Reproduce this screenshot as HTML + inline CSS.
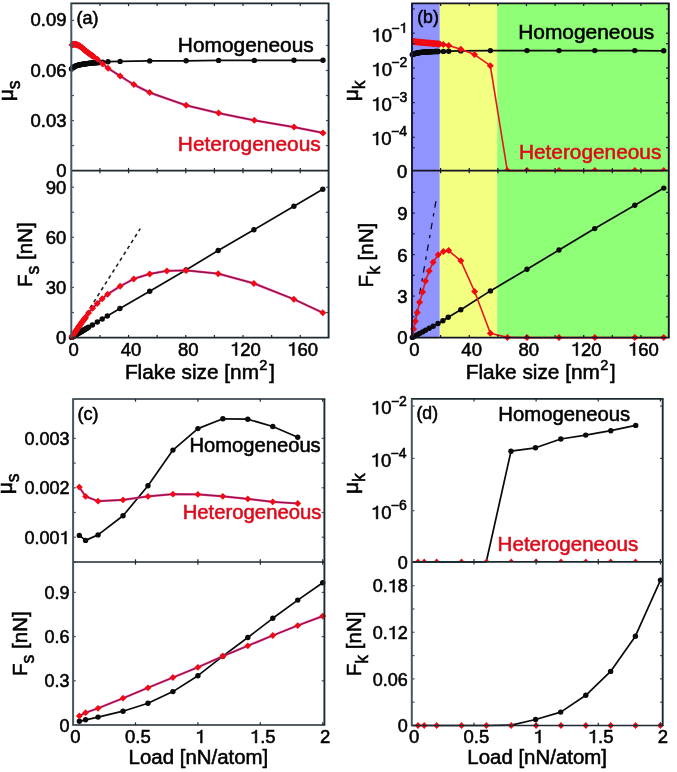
<!DOCTYPE html>
<html><head><meta charset="utf-8"><style>
html,body{margin:0;padding:0;background:#fff;}
svg{display:block;will-change:transform;}
text{font-family:"Liberation Sans", sans-serif;}
</style></head><body>
<svg width="677" height="772" viewBox="0 0 677 772">
<rect x="0" y="0" width="677" height="772" fill="#ffffff"/>
<rect x="412" y="3.4" width="27.8" height="334.2" fill="#8f94ff"/>
<rect x="439.8" y="3.4" width="57.4" height="334.2" fill="#f2ff80"/>
<rect x="497.2" y="3.4" width="171.6" height="334.2" fill="#90ff78"/>
<polyline points="71.5,69 72.9,67.6 74.6,66.5 76.6,65.6 78.9,65 81.9,64.4 84.8,63.9 88.5,63.4 92.4,63 97.5,62.6 102.7,62.2 108,61.7 120.1,61.4 149.7,60.9 186.1,60.8 218.6,60.4 254.3,60.4 294,60.3 323,60.3" fill="none" stroke="#0a0a0a" stroke-width="1.7" stroke-linejoin="round" />
<circle cx="71.5" cy="69" r="2.7" fill="#0a0a0a"/>
<circle cx="72.9" cy="67.6" r="2.7" fill="#0a0a0a"/>
<circle cx="74.6" cy="66.5" r="2.7" fill="#0a0a0a"/>
<circle cx="76.6" cy="65.6" r="2.7" fill="#0a0a0a"/>
<circle cx="78.9" cy="65" r="2.7" fill="#0a0a0a"/>
<circle cx="81.9" cy="64.4" r="2.7" fill="#0a0a0a"/>
<circle cx="84.8" cy="63.9" r="2.7" fill="#0a0a0a"/>
<circle cx="88.5" cy="63.4" r="2.7" fill="#0a0a0a"/>
<circle cx="92.4" cy="63" r="2.7" fill="#0a0a0a"/>
<circle cx="97.5" cy="62.6" r="2.7" fill="#0a0a0a"/>
<circle cx="102.7" cy="62.2" r="2.7" fill="#0a0a0a"/>
<circle cx="108" cy="61.7" r="2.7" fill="#0a0a0a"/>
<circle cx="120.1" cy="61.4" r="2.7" fill="#0a0a0a"/>
<circle cx="149.7" cy="60.9" r="2.7" fill="#0a0a0a"/>
<circle cx="186.1" cy="60.8" r="2.7" fill="#0a0a0a"/>
<circle cx="218.6" cy="60.4" r="2.7" fill="#0a0a0a"/>
<circle cx="254.3" cy="60.4" r="2.7" fill="#0a0a0a"/>
<circle cx="294" cy="60.3" r="2.7" fill="#0a0a0a"/>
<circle cx="323" cy="60.3" r="2.7" fill="#0a0a0a"/>
<circle cx="72" cy="68.5" r="2.7" fill="#0a0a0a"/>
<circle cx="72.8" cy="67.7" r="2.7" fill="#0a0a0a"/>
<circle cx="73.6" cy="67.15" r="2.7" fill="#0a0a0a"/>
<circle cx="74.4" cy="66.63" r="2.7" fill="#0a0a0a"/>
<circle cx="75.2" cy="66.23" r="2.7" fill="#0a0a0a"/>
<circle cx="76" cy="65.87" r="2.7" fill="#0a0a0a"/>
<circle cx="76.8" cy="65.55" r="2.7" fill="#0a0a0a"/>
<circle cx="77.6" cy="65.34" r="2.7" fill="#0a0a0a"/>
<circle cx="78.4" cy="65.13" r="2.7" fill="#0a0a0a"/>
<circle cx="79.2" cy="64.94" r="2.7" fill="#0a0a0a"/>
<circle cx="80" cy="64.78" r="2.7" fill="#0a0a0a"/>
<circle cx="80.8" cy="64.62" r="2.7" fill="#0a0a0a"/>
<circle cx="81.6" cy="64.46" r="2.7" fill="#0a0a0a"/>
<circle cx="82.4" cy="64.31" r="2.7" fill="#0a0a0a"/>
<circle cx="83.2" cy="64.18" r="2.7" fill="#0a0a0a"/>
<circle cx="84" cy="64.04" r="2.7" fill="#0a0a0a"/>
<circle cx="84.8" cy="63.9" r="2.7" fill="#0a0a0a"/>
<circle cx="85.6" cy="63.79" r="2.7" fill="#0a0a0a"/>
<circle cx="86.4" cy="63.68" r="2.7" fill="#0a0a0a"/>
<circle cx="87.2" cy="63.58" r="2.7" fill="#0a0a0a"/>
<circle cx="88" cy="63.47" r="2.7" fill="#0a0a0a"/>
<circle cx="88.8" cy="63.37" r="2.7" fill="#0a0a0a"/>
<circle cx="89.6" cy="63.29" r="2.7" fill="#0a0a0a"/>
<circle cx="90.4" cy="63.21" r="2.7" fill="#0a0a0a"/>
<circle cx="91.2" cy="63.12" r="2.7" fill="#0a0a0a"/>
<circle cx="92" cy="63.04" r="2.7" fill="#0a0a0a"/>
<circle cx="92.8" cy="62.97" r="2.7" fill="#0a0a0a"/>
<circle cx="93.6" cy="62.91" r="2.7" fill="#0a0a0a"/>
<circle cx="94.4" cy="62.84" r="2.7" fill="#0a0a0a"/>
<circle cx="95.2" cy="62.78" r="2.7" fill="#0a0a0a"/>
<circle cx="96" cy="62.72" r="2.7" fill="#0a0a0a"/>
<circle cx="96.8" cy="62.65" r="2.7" fill="#0a0a0a"/>
<circle cx="97.6" cy="62.59" r="2.7" fill="#0a0a0a"/>
<circle cx="98.4" cy="62.53" r="2.7" fill="#0a0a0a"/>
<circle cx="99.2" cy="62.47" r="2.7" fill="#0a0a0a"/>
<circle cx="100" cy="62.41" r="2.7" fill="#0a0a0a"/>
<polyline points="71.5,45.2 72.9,44.4 74.6,44.2 76.6,44.6 78.9,45.6 81.9,47.6 84.8,50.3 88.5,53.1 92.4,55.8 97.5,59.3 102.7,63.9 108,68.2 120.1,76 133.8,84.6 149.7,92.6 186.1,105.3 218.6,113.1 254.3,120.3 294,127.1 323,132.9" fill="none" stroke="#f02a80" stroke-width="2.3" stroke-linejoin="round" />
<polyline points="71.5,45.2 72.9,44.4 74.6,44.2 76.6,44.6 78.9,45.6 81.9,47.6 84.8,50.3 88.5,53.1 92.4,55.8 97.5,59.3 102.7,63.9 108,68.2 120.1,76 133.8,84.6 149.7,92.6 186.1,105.3 218.6,113.1 254.3,120.3 294,127.1 323,132.9" fill="none" stroke="#581030" stroke-width="0.85" stroke-linejoin="round" />
<path d="M72.9 40.9L76.4 44.4L72.9 47.9L69.4 44.4Z" fill="#f00a14"/>
<path d="M74.6 40.7L78.1 44.2L74.6 47.7L71.1 44.2Z" fill="#f00a14"/>
<path d="M76.6 41.1L80.1 44.6L76.6 48.1L73.1 44.6Z" fill="#f00a14"/>
<path d="M78.9 42.1L82.4 45.6L78.9 49.1L75.4 45.6Z" fill="#f00a14"/>
<path d="M81.9 44.1L85.4 47.6L81.9 51.1L78.4 47.6Z" fill="#f00a14"/>
<path d="M84.8 46.8L88.3 50.3L84.8 53.8L81.3 50.3Z" fill="#f00a14"/>
<path d="M88.5 49.6L92 53.1L88.5 56.6L85 53.1Z" fill="#f00a14"/>
<path d="M92.4 52.3L95.9 55.8L92.4 59.3L88.9 55.8Z" fill="#f00a14"/>
<path d="M97.5 55.8L101 59.3L97.5 62.8L94 59.3Z" fill="#f00a14"/>
<path d="M102.7 60.4L106.2 63.9L102.7 67.4L99.2 63.9Z" fill="#f00a14"/>
<path d="M108 64.7L111.5 68.2L108 71.7L104.5 68.2Z" fill="#f00a14"/>
<path d="M120.1 72.5L123.6 76L120.1 79.5L116.6 76Z" fill="#f00a14"/>
<path d="M133.8 81.1L137.3 84.6L133.8 88.1L130.3 84.6Z" fill="#f00a14"/>
<path d="M149.7 89.1L153.2 92.6L149.7 96.1L146.2 92.6Z" fill="#f00a14"/>
<path d="M186.1 101.8L189.6 105.3L186.1 108.8L182.6 105.3Z" fill="#f00a14"/>
<path d="M218.6 109.6L222.1 113.1L218.6 116.6L215.1 113.1Z" fill="#f00a14"/>
<path d="M254.3 116.8L257.8 120.3L254.3 123.8L250.8 120.3Z" fill="#f00a14"/>
<path d="M294 123.6L297.5 127.1L294 130.6L290.5 127.1Z" fill="#f00a14"/>
<path d="M323 129.4L326.5 132.9L323 136.4L319.5 132.9Z" fill="#f00a14"/>
<path d="M72 41.41L75.5 44.91L72 48.41L68.5 44.91Z" fill="#f00a14"/>
<path d="M72.8 40.96L76.3 44.46L72.8 47.96L69.3 44.46Z" fill="#f00a14"/>
<path d="M73.6 40.82L77.1 44.32L73.6 47.82L70.1 44.32Z" fill="#f00a14"/>
<path d="M74.4 40.72L77.9 44.22L74.4 47.72L70.9 44.22Z" fill="#f00a14"/>
<path d="M75.2 40.82L78.7 44.32L75.2 47.82L71.7 44.32Z" fill="#f00a14"/>
<path d="M76 40.98L79.5 44.48L76 47.98L72.5 44.48Z" fill="#f00a14"/>
<path d="M76.8 41.19L80.3 44.69L76.8 48.19L73.3 44.69Z" fill="#f00a14"/>
<path d="M77.6 41.53L81.1 45.03L77.6 48.53L74.1 45.03Z" fill="#f00a14"/>
<path d="M78.4 41.88L81.9 45.38L78.4 48.88L74.9 45.38Z" fill="#f00a14"/>
<path d="M79.2 42.3L82.7 45.8L79.2 49.3L75.7 45.8Z" fill="#f00a14"/>
<path d="M80 42.83L83.5 46.33L80 49.83L76.5 46.33Z" fill="#f00a14"/>
<path d="M80.8 43.37L84.3 46.87L80.8 50.37L77.3 46.87Z" fill="#f00a14"/>
<path d="M81.6 43.9L85.1 47.4L81.6 50.9L78.1 47.4Z" fill="#f00a14"/>
<path d="M82.4 44.57L85.9 48.07L82.4 51.57L78.9 48.07Z" fill="#f00a14"/>
<path d="M83.2 45.31L86.7 48.81L83.2 52.31L79.7 48.81Z" fill="#f00a14"/>
<path d="M84 46.06L87.5 49.56L84 53.06L80.5 49.56Z" fill="#f00a14"/>
<path d="M84.8 46.8L88.3 50.3L84.8 53.8L81.3 50.3Z" fill="#f00a14"/>
<path d="M85.6 47.41L89.1 50.91L85.6 54.41L82.1 50.91Z" fill="#f00a14"/>
<path d="M86.4 48.01L89.9 51.51L86.4 55.01L82.9 51.51Z" fill="#f00a14"/>
<path d="M87.2 48.62L90.7 52.12L87.2 55.62L83.7 52.12Z" fill="#f00a14"/>
<path d="M88 49.22L91.5 52.72L88 56.22L84.5 52.72Z" fill="#f00a14"/>
<path d="M88.8 49.81L92.3 53.31L88.8 56.81L85.3 53.31Z" fill="#f00a14"/>
<path d="M89.6 50.36L93.1 53.86L89.6 57.36L86.1 53.86Z" fill="#f00a14"/>
<path d="M90.4 50.92L93.9 54.42L90.4 57.92L86.9 54.42Z" fill="#f00a14"/>
<path d="M91.2 51.47L94.7 54.97L91.2 58.47L87.7 54.97Z" fill="#f00a14"/>
<path d="M92 52.02L95.5 55.52L92 59.02L88.5 55.52Z" fill="#f00a14"/>
<path d="M92.8 52.57L96.3 56.07L92.8 59.57L89.3 56.07Z" fill="#f00a14"/>
<path d="M93.6 53.12L97.1 56.62L93.6 60.12L90.1 56.62Z" fill="#f00a14"/>
<line x1="71.3" y1="337.6" x2="140.3" y2="228.6" stroke="#1a2626" stroke-width="1.6" stroke-dasharray="3.6 3.4"/>
<polyline points="71.5,337.4 72.9,336.64 74.6,335.62 76.6,334.42 78.9,333.04 81.9,331.24 84.8,329.5 88.5,327.28 92.4,324.94 97.3,322 102.2,319.06 107.3,316 119.9,308.5 149.7,291.3 186,269.9 218.2,250.5 253.9,229.7 293.9,206.3 322.8,189.3" fill="none" stroke="#0a0a0a" stroke-width="1.7" stroke-linejoin="round" />
<circle cx="71.5" cy="337.4" r="2.7" fill="#0a0a0a"/>
<circle cx="72.9" cy="336.64" r="2.7" fill="#0a0a0a"/>
<circle cx="74.6" cy="335.62" r="2.7" fill="#0a0a0a"/>
<circle cx="76.6" cy="334.42" r="2.7" fill="#0a0a0a"/>
<circle cx="78.9" cy="333.04" r="2.7" fill="#0a0a0a"/>
<circle cx="81.9" cy="331.24" r="2.7" fill="#0a0a0a"/>
<circle cx="84.8" cy="329.5" r="2.7" fill="#0a0a0a"/>
<circle cx="88.5" cy="327.28" r="2.7" fill="#0a0a0a"/>
<circle cx="92.4" cy="324.94" r="2.7" fill="#0a0a0a"/>
<circle cx="97.3" cy="322" r="2.7" fill="#0a0a0a"/>
<circle cx="102.2" cy="319.06" r="2.7" fill="#0a0a0a"/>
<circle cx="107.3" cy="316" r="2.7" fill="#0a0a0a"/>
<circle cx="119.9" cy="308.5" r="2.7" fill="#0a0a0a"/>
<circle cx="149.7" cy="291.3" r="2.7" fill="#0a0a0a"/>
<circle cx="186" cy="269.9" r="2.7" fill="#0a0a0a"/>
<circle cx="218.2" cy="250.5" r="2.7" fill="#0a0a0a"/>
<circle cx="253.9" cy="229.7" r="2.7" fill="#0a0a0a"/>
<circle cx="293.9" cy="206.3" r="2.7" fill="#0a0a0a"/>
<circle cx="322.8" cy="189.3" r="2.7" fill="#0a0a0a"/>
<circle cx="72" cy="337.13" r="2.7" fill="#0a0a0a"/>
<circle cx="72.8" cy="336.69" r="2.7" fill="#0a0a0a"/>
<circle cx="73.6" cy="336.22" r="2.7" fill="#0a0a0a"/>
<circle cx="74.4" cy="335.74" r="2.7" fill="#0a0a0a"/>
<circle cx="75.2" cy="335.26" r="2.7" fill="#0a0a0a"/>
<circle cx="76" cy="334.78" r="2.7" fill="#0a0a0a"/>
<circle cx="76.8" cy="334.3" r="2.7" fill="#0a0a0a"/>
<circle cx="77.6" cy="333.82" r="2.7" fill="#0a0a0a"/>
<circle cx="78.4" cy="333.34" r="2.7" fill="#0a0a0a"/>
<circle cx="79.2" cy="332.86" r="2.7" fill="#0a0a0a"/>
<circle cx="80" cy="332.38" r="2.7" fill="#0a0a0a"/>
<circle cx="80.8" cy="331.9" r="2.7" fill="#0a0a0a"/>
<circle cx="81.6" cy="331.42" r="2.7" fill="#0a0a0a"/>
<circle cx="82.4" cy="330.94" r="2.7" fill="#0a0a0a"/>
<circle cx="83.2" cy="330.46" r="2.7" fill="#0a0a0a"/>
<circle cx="84" cy="329.98" r="2.7" fill="#0a0a0a"/>
<circle cx="84.8" cy="329.5" r="2.7" fill="#0a0a0a"/>
<circle cx="85.6" cy="329.02" r="2.7" fill="#0a0a0a"/>
<circle cx="86.4" cy="328.54" r="2.7" fill="#0a0a0a"/>
<circle cx="87.2" cy="328.06" r="2.7" fill="#0a0a0a"/>
<circle cx="88" cy="327.58" r="2.7" fill="#0a0a0a"/>
<polyline points="71.5,337.3 72.9,335.3 74.6,332.8 76.6,330 78.9,326.6 81.9,322.3 84.8,318.4 88.5,313 92.6,308.2 97.2,303.4 102.2,298.7 107.6,294.2 120.1,286.3 133.7,278.9 149.7,273.9 166.9,270.9 186,270.4 218.2,273.7 253.9,283.4 293.9,299.2 322.8,312.7" fill="none" stroke="#f02a80" stroke-width="2.3" stroke-linejoin="round" />
<polyline points="71.5,337.3 72.9,335.3 74.6,332.8 76.6,330 78.9,326.6 81.9,322.3 84.8,318.4 88.5,313 92.6,308.2 97.2,303.4 102.2,298.7 107.6,294.2 120.1,286.3 133.7,278.9 149.7,273.9 166.9,270.9 186,270.4 218.2,273.7 253.9,283.4 293.9,299.2 322.8,312.7" fill="none" stroke="#581030" stroke-width="0.85" stroke-linejoin="round" />
<path d="M72.9 331.8L76.4 335.3L72.9 338.8L69.4 335.3Z" fill="#f00a14"/>
<path d="M74.6 329.3L78.1 332.8L74.6 336.3L71.1 332.8Z" fill="#f00a14"/>
<path d="M76.6 326.5L80.1 330L76.6 333.5L73.1 330Z" fill="#f00a14"/>
<path d="M78.9 323.1L82.4 326.6L78.9 330.1L75.4 326.6Z" fill="#f00a14"/>
<path d="M81.9 318.8L85.4 322.3L81.9 325.8L78.4 322.3Z" fill="#f00a14"/>
<path d="M84.8 314.9L88.3 318.4L84.8 321.9L81.3 318.4Z" fill="#f00a14"/>
<path d="M88.5 309.5L92 313L88.5 316.5L85 313Z" fill="#f00a14"/>
<path d="M92.6 304.7L96.1 308.2L92.6 311.7L89.1 308.2Z" fill="#f00a14"/>
<path d="M97.2 299.9L100.7 303.4L97.2 306.9L93.7 303.4Z" fill="#f00a14"/>
<path d="M102.2 295.2L105.7 298.7L102.2 302.2L98.7 298.7Z" fill="#f00a14"/>
<path d="M107.6 290.7L111.1 294.2L107.6 297.7L104.1 294.2Z" fill="#f00a14"/>
<path d="M120.1 282.8L123.6 286.3L120.1 289.8L116.6 286.3Z" fill="#f00a14"/>
<path d="M133.7 275.4L137.2 278.9L133.7 282.4L130.2 278.9Z" fill="#f00a14"/>
<path d="M149.7 270.4L153.2 273.9L149.7 277.4L146.2 273.9Z" fill="#f00a14"/>
<path d="M166.9 267.4L170.4 270.9L166.9 274.4L163.4 270.9Z" fill="#f00a14"/>
<path d="M186 266.9L189.5 270.4L186 273.9L182.5 270.4Z" fill="#f00a14"/>
<path d="M218.2 270.2L221.7 273.7L218.2 277.2L214.7 273.7Z" fill="#f00a14"/>
<path d="M253.9 279.9L257.4 283.4L253.9 286.9L250.4 283.4Z" fill="#f00a14"/>
<path d="M293.9 295.7L297.4 299.2L293.9 302.7L290.4 299.2Z" fill="#f00a14"/>
<path d="M322.8 309.2L326.3 312.7L322.8 316.2L319.3 312.7Z" fill="#f00a14"/>
<path d="M72 333.09L75.5 336.59L72 340.09L68.5 336.59Z" fill="#f00a14"/>
<path d="M72.8 331.94L76.3 335.44L72.8 338.94L69.3 335.44Z" fill="#f00a14"/>
<path d="M73.6 330.77L77.1 334.27L73.6 337.77L70.1 334.27Z" fill="#f00a14"/>
<path d="M74.4 329.59L77.9 333.09L74.4 336.59L70.9 333.09Z" fill="#f00a14"/>
<path d="M75.2 328.46L78.7 331.96L75.2 335.46L71.7 331.96Z" fill="#f00a14"/>
<path d="M76 327.34L79.5 330.84L76 334.34L72.5 330.84Z" fill="#f00a14"/>
<path d="M76.8 326.2L80.3 329.7L76.8 333.2L73.3 329.7Z" fill="#f00a14"/>
<path d="M77.6 325.02L81.1 328.52L77.6 332.02L74.1 328.52Z" fill="#f00a14"/>
<path d="M78.4 323.84L81.9 327.34L78.4 330.84L74.9 327.34Z" fill="#f00a14"/>
<path d="M79.2 322.67L82.7 326.17L79.2 329.67L75.7 326.17Z" fill="#f00a14"/>
<path d="M80 321.52L83.5 325.02L80 328.52L76.5 325.02Z" fill="#f00a14"/>
<path d="M80.8 320.38L84.3 323.88L80.8 327.38L77.3 323.88Z" fill="#f00a14"/>
<path d="M81.6 319.23L85.1 322.73L81.6 326.23L78.1 322.73Z" fill="#f00a14"/>
<path d="M82.4 318.13L85.9 321.63L82.4 325.13L78.9 321.63Z" fill="#f00a14"/>
<path d="M83.2 317.05L86.7 320.55L83.2 324.05L79.7 320.55Z" fill="#f00a14"/>
<path d="M84 315.98L87.5 319.48L84 322.98L80.5 319.48Z" fill="#f00a14"/>
<path d="M84.8 314.9L88.3 318.4L84.8 321.9L81.3 318.4Z" fill="#f00a14"/>
<path d="M85.6 313.73L89.1 317.23L85.6 320.73L82.1 317.23Z" fill="#f00a14"/>
<polyline points="412.3,54.6 413.6,54 415.3,53.5 417.3,53 419.6,52.6 422.6,52.2 425.5,52 429.2,51.8 433.1,51.6 438.2,51.5 443.4,51.4 448.7,51.2 460.8,50.9 490.4,50.6 527,50.6 559,50.6 594.8,50.6 634.8,50.6 663.7,50.8" fill="none" stroke="#0a0a0a" stroke-width="1.7" stroke-linejoin="round" />
<circle cx="412.3" cy="54.6" r="2.7" fill="#0a0a0a"/>
<circle cx="413.6" cy="54" r="2.7" fill="#0a0a0a"/>
<circle cx="415.3" cy="53.5" r="2.7" fill="#0a0a0a"/>
<circle cx="417.3" cy="53" r="2.7" fill="#0a0a0a"/>
<circle cx="419.6" cy="52.6" r="2.7" fill="#0a0a0a"/>
<circle cx="422.6" cy="52.2" r="2.7" fill="#0a0a0a"/>
<circle cx="425.5" cy="52" r="2.7" fill="#0a0a0a"/>
<circle cx="429.2" cy="51.8" r="2.7" fill="#0a0a0a"/>
<circle cx="433.1" cy="51.6" r="2.7" fill="#0a0a0a"/>
<circle cx="438.2" cy="51.5" r="2.7" fill="#0a0a0a"/>
<circle cx="443.4" cy="51.4" r="2.7" fill="#0a0a0a"/>
<circle cx="448.7" cy="51.2" r="2.7" fill="#0a0a0a"/>
<circle cx="460.8" cy="50.9" r="2.7" fill="#0a0a0a"/>
<circle cx="490.4" cy="50.6" r="2.7" fill="#0a0a0a"/>
<circle cx="527" cy="50.6" r="2.7" fill="#0a0a0a"/>
<circle cx="559" cy="50.6" r="2.7" fill="#0a0a0a"/>
<circle cx="594.8" cy="50.6" r="2.7" fill="#0a0a0a"/>
<circle cx="634.8" cy="50.6" r="2.7" fill="#0a0a0a"/>
<circle cx="663.7" cy="50.8" r="2.7" fill="#0a0a0a"/>
<circle cx="412.6" cy="54.46" r="2.7" fill="#0a0a0a"/>
<circle cx="413.4" cy="54.09" r="2.7" fill="#0a0a0a"/>
<circle cx="414.2" cy="53.82" r="2.7" fill="#0a0a0a"/>
<circle cx="415" cy="53.59" r="2.7" fill="#0a0a0a"/>
<circle cx="415.8" cy="53.37" r="2.7" fill="#0a0a0a"/>
<circle cx="416.6" cy="53.17" r="2.7" fill="#0a0a0a"/>
<circle cx="417.4" cy="52.98" r="2.7" fill="#0a0a0a"/>
<circle cx="418.2" cy="52.84" r="2.7" fill="#0a0a0a"/>
<circle cx="419" cy="52.7" r="2.7" fill="#0a0a0a"/>
<circle cx="419.8" cy="52.57" r="2.7" fill="#0a0a0a"/>
<circle cx="420.6" cy="52.47" r="2.7" fill="#0a0a0a"/>
<circle cx="421.4" cy="52.36" r="2.7" fill="#0a0a0a"/>
<circle cx="422.2" cy="52.25" r="2.7" fill="#0a0a0a"/>
<circle cx="423" cy="52.17" r="2.7" fill="#0a0a0a"/>
<circle cx="423.8" cy="52.12" r="2.7" fill="#0a0a0a"/>
<circle cx="424.6" cy="52.06" r="2.7" fill="#0a0a0a"/>
<circle cx="425.4" cy="52.01" r="2.7" fill="#0a0a0a"/>
<circle cx="426.2" cy="51.96" r="2.7" fill="#0a0a0a"/>
<circle cx="427" cy="51.92" r="2.7" fill="#0a0a0a"/>
<circle cx="427.8" cy="51.88" r="2.7" fill="#0a0a0a"/>
<circle cx="428.6" cy="51.83" r="2.7" fill="#0a0a0a"/>
<circle cx="429.4" cy="51.79" r="2.7" fill="#0a0a0a"/>
<circle cx="430.2" cy="51.75" r="2.7" fill="#0a0a0a"/>
<circle cx="431" cy="51.71" r="2.7" fill="#0a0a0a"/>
<circle cx="431.8" cy="51.67" r="2.7" fill="#0a0a0a"/>
<circle cx="432.6" cy="51.63" r="2.7" fill="#0a0a0a"/>
<circle cx="433.4" cy="51.59" r="2.7" fill="#0a0a0a"/>
<circle cx="434.2" cy="51.58" r="2.7" fill="#0a0a0a"/>
<circle cx="435" cy="51.56" r="2.7" fill="#0a0a0a"/>
<circle cx="435.8" cy="51.55" r="2.7" fill="#0a0a0a"/>
<circle cx="436.6" cy="51.53" r="2.7" fill="#0a0a0a"/>
<circle cx="437.4" cy="51.52" r="2.7" fill="#0a0a0a"/>
<polyline points="412.3,41.4 413.6,41.5 415.3,41.8 417.3,42 419.6,42.2 422.6,42.5 425.5,42.8 429.2,43.1 433.1,43.4 438.2,43.9 443.4,44.5 448.7,45.6 460.8,49.2 474.5,54.6 490.3,65.7 507.3,170.6 527,170.6 559,170.6 594.8,170.6 634.8,170.6 663.7,170.6" fill="none" stroke="#e8141e" stroke-width="1.6" stroke-linejoin="round" />
<clipPath id="cb"><rect x="412" y="3.4" width="257" height="167.2"/></clipPath>
<g clip-path="url(#cb)">
<path d="M412.3 37.9L415.8 41.4L412.3 44.9L408.8 41.4Z" fill="#f00a14"/>
<path d="M413.6 38L417.1 41.5L413.6 45L410.1 41.5Z" fill="#f00a14"/>
<path d="M415.3 38.3L418.8 41.8L415.3 45.3L411.8 41.8Z" fill="#f00a14"/>
<path d="M417.3 38.5L420.8 42L417.3 45.5L413.8 42Z" fill="#f00a14"/>
<path d="M419.6 38.7L423.1 42.2L419.6 45.7L416.1 42.2Z" fill="#f00a14"/>
<path d="M422.6 39L426.1 42.5L422.6 46L419.1 42.5Z" fill="#f00a14"/>
<path d="M425.5 39.3L429 42.8L425.5 46.3L422 42.8Z" fill="#f00a14"/>
<path d="M429.2 39.6L432.7 43.1L429.2 46.6L425.7 43.1Z" fill="#f00a14"/>
<path d="M433.1 39.9L436.6 43.4L433.1 46.9L429.6 43.4Z" fill="#f00a14"/>
<path d="M438.2 40.4L441.7 43.9L438.2 47.4L434.7 43.9Z" fill="#f00a14"/>
<path d="M443.4 41L446.9 44.5L443.4 48L439.9 44.5Z" fill="#f00a14"/>
<path d="M448.7 42.1L452.2 45.6L448.7 49.1L445.2 45.6Z" fill="#f00a14"/>
<path d="M460.8 45.7L464.3 49.2L460.8 52.7L457.3 49.2Z" fill="#f00a14"/>
<path d="M474.5 51.1L478 54.6L474.5 58.1L471 54.6Z" fill="#f00a14"/>
<path d="M490.3 62.2L493.8 65.7L490.3 69.2L486.8 65.7Z" fill="#f00a14"/>
<path d="M507.3 167.1L510.8 170.6L507.3 174.1L503.8 170.6Z" fill="#f00a14"/>
<path d="M527 167.1L530.5 170.6L527 174.1L523.5 170.6Z" fill="#f00a14"/>
<path d="M559 167.1L562.5 170.6L559 174.1L555.5 170.6Z" fill="#f00a14"/>
<path d="M594.8 167.1L598.3 170.6L594.8 174.1L591.3 170.6Z" fill="#f00a14"/>
<path d="M634.8 167.1L638.3 170.6L634.8 174.1L631.3 170.6Z" fill="#f00a14"/>
<path d="M663.7 167.1L667.2 170.6L663.7 174.1L660.2 170.6Z" fill="#f00a14"/>
<path d="M412.6 37.92L416.1 41.42L412.6 44.92L409.1 41.42Z" fill="#f00a14"/>
<path d="M413.4 37.98L416.9 41.48L413.4 44.98L409.9 41.48Z" fill="#f00a14"/>
<path d="M414.2 38.11L417.7 41.61L414.2 45.11L410.7 41.61Z" fill="#f00a14"/>
<path d="M415 38.25L418.5 41.75L415 45.25L411.5 41.75Z" fill="#f00a14"/>
<path d="M415.8 38.35L419.3 41.85L415.8 45.35L412.3 41.85Z" fill="#f00a14"/>
<path d="M416.6 38.43L420.1 41.93L416.6 45.43L413.1 41.93Z" fill="#f00a14"/>
<path d="M417.4 38.51L420.9 42.01L417.4 45.51L413.9 42.01Z" fill="#f00a14"/>
<path d="M418.2 38.58L421.7 42.08L418.2 45.58L414.7 42.08Z" fill="#f00a14"/>
<path d="M419 38.65L422.5 42.15L419 45.65L415.5 42.15Z" fill="#f00a14"/>
<path d="M419.8 38.72L423.3 42.22L419.8 45.72L416.3 42.22Z" fill="#f00a14"/>
<path d="M420.6 38.8L424.1 42.3L420.6 45.8L417.1 42.3Z" fill="#f00a14"/>
<path d="M421.4 38.88L424.9 42.38L421.4 45.88L417.9 42.38Z" fill="#f00a14"/>
<path d="M422.2 38.96L425.7 42.46L422.2 45.96L418.7 42.46Z" fill="#f00a14"/>
<path d="M423 39.04L426.5 42.54L423 46.04L419.5 42.54Z" fill="#f00a14"/>
<path d="M423.8 39.12L427.3 42.62L423.8 46.12L420.3 42.62Z" fill="#f00a14"/>
<path d="M424.6 39.21L428.1 42.71L424.6 46.21L421.1 42.71Z" fill="#f00a14"/>
<path d="M425.4 39.29L428.9 42.79L425.4 46.29L421.9 42.79Z" fill="#f00a14"/>
<path d="M426.2 39.36L429.7 42.86L426.2 46.36L422.7 42.86Z" fill="#f00a14"/>
<path d="M427 39.42L430.5 42.92L427 46.42L423.5 42.92Z" fill="#f00a14"/>
<path d="M427.8 39.49L431.3 42.99L427.8 46.49L424.3 42.99Z" fill="#f00a14"/>
<path d="M428.6 39.55L432.1 43.05L428.6 46.55L425.1 43.05Z" fill="#f00a14"/>
<path d="M429.4 39.62L432.9 43.12L429.4 46.62L425.9 43.12Z" fill="#f00a14"/>
<path d="M430.2 39.68L433.7 43.18L430.2 46.68L426.7 43.18Z" fill="#f00a14"/>
<path d="M431 39.74L434.5 43.24L431 46.74L427.5 43.24Z" fill="#f00a14"/>
<path d="M431.8 39.8L435.3 43.3L431.8 46.8L428.3 43.3Z" fill="#f00a14"/>
<path d="M432.6 39.86L436.1 43.36L432.6 46.86L429.1 43.36Z" fill="#f00a14"/>
<path d="M433.4 39.93L436.9 43.43L433.4 46.93L429.9 43.43Z" fill="#f00a14"/>
<path d="M434.2 40.01L437.7 43.51L434.2 47.01L430.7 43.51Z" fill="#f00a14"/>
<path d="M435 40.09L438.5 43.59L435 47.09L431.5 43.59Z" fill="#f00a14"/>
<path d="M435.8 40.16L439.3 43.66L435.8 47.16L432.3 43.66Z" fill="#f00a14"/>
<path d="M436.6 40.24L440.1 43.74L436.6 47.24L433.1 43.74Z" fill="#f00a14"/>
<path d="M437.4 40.32L440.9 43.82L437.4 47.32L433.9 43.82Z" fill="#f00a14"/>
<path d="M438.2 40.4L441.7 43.9L438.2 47.4L434.7 43.9Z" fill="#f00a14"/>
<path d="M439 40.49L442.5 43.99L439 47.49L435.5 43.99Z" fill="#f00a14"/>
<path d="M439.8 40.58L443.3 44.08L439.8 47.58L436.3 44.08Z" fill="#f00a14"/>
</g>
<line x1="412" y1="337.6" x2="436.2" y2="199.6" stroke="#0c0c2c" stroke-width="1.3" stroke-dasharray="6.6 6.4 3.4 5.6"/>
<polyline points="412.3,337.4 413.6,336.74 415.3,335.82 417.3,334.74 419.6,333.5 422.6,331.88 425.5,330.31 429.2,328.31 433.1,326.21 438,323.56 442.9,320.8 448.2,317.2 460.8,309.7 490.4,290.9 527,269.3 559,250 594.7,228.6 634.8,205.3 663.8,188.1" fill="none" stroke="#0a0a0a" stroke-width="1.7" stroke-linejoin="round" />
<circle cx="412.3" cy="337.4" r="2.7" fill="#0a0a0a"/>
<circle cx="413.6" cy="336.74" r="2.7" fill="#0a0a0a"/>
<circle cx="415.3" cy="335.82" r="2.7" fill="#0a0a0a"/>
<circle cx="417.3" cy="334.74" r="2.7" fill="#0a0a0a"/>
<circle cx="419.6" cy="333.5" r="2.7" fill="#0a0a0a"/>
<circle cx="422.6" cy="331.88" r="2.7" fill="#0a0a0a"/>
<circle cx="425.5" cy="330.31" r="2.7" fill="#0a0a0a"/>
<circle cx="429.2" cy="328.31" r="2.7" fill="#0a0a0a"/>
<circle cx="433.1" cy="326.21" r="2.7" fill="#0a0a0a"/>
<circle cx="438" cy="323.56" r="2.7" fill="#0a0a0a"/>
<circle cx="442.9" cy="320.8" r="2.7" fill="#0a0a0a"/>
<circle cx="448.2" cy="317.2" r="2.7" fill="#0a0a0a"/>
<circle cx="460.8" cy="309.7" r="2.7" fill="#0a0a0a"/>
<circle cx="490.4" cy="290.9" r="2.7" fill="#0a0a0a"/>
<circle cx="527" cy="269.3" r="2.7" fill="#0a0a0a"/>
<circle cx="559" cy="250" r="2.7" fill="#0a0a0a"/>
<circle cx="594.7" cy="228.6" r="2.7" fill="#0a0a0a"/>
<circle cx="634.8" cy="205.3" r="2.7" fill="#0a0a0a"/>
<circle cx="663.8" cy="188.1" r="2.7" fill="#0a0a0a"/>
<polyline points="412.2,337.4 413.6,328.9 415.3,321.3 417.3,312.5 419.6,302.2 422.6,292 425.5,281 429.2,271.1 433.1,262.2 438.2,254.8 443.4,251.4 448.7,250.6 460.8,260.8 474.6,291.5 490.4,333.3 507.4,337.4 527,337.6 559,337.6 594.8,337.6 634.8,337.6 663.7,337.6" fill="none" stroke="#e8141e" stroke-width="1.6" stroke-linejoin="round" />
<path d="M413.6 325.4L417.1 328.9L413.6 332.4L410.1 328.9Z" fill="#f00a14"/>
<path d="M415.3 317.8L418.8 321.3L415.3 324.8L411.8 321.3Z" fill="#f00a14"/>
<path d="M417.3 309L420.8 312.5L417.3 316L413.8 312.5Z" fill="#f00a14"/>
<path d="M419.6 298.7L423.1 302.2L419.6 305.7L416.1 302.2Z" fill="#f00a14"/>
<path d="M422.6 288.5L426.1 292L422.6 295.5L419.1 292Z" fill="#f00a14"/>
<path d="M425.5 277.5L429 281L425.5 284.5L422 281Z" fill="#f00a14"/>
<path d="M429.2 267.6L432.7 271.1L429.2 274.6L425.7 271.1Z" fill="#f00a14"/>
<path d="M433.1 258.7L436.6 262.2L433.1 265.7L429.6 262.2Z" fill="#f00a14"/>
<path d="M438.2 251.3L441.7 254.8L438.2 258.3L434.7 254.8Z" fill="#f00a14"/>
<path d="M443.4 247.9L446.9 251.4L443.4 254.9L439.9 251.4Z" fill="#f00a14"/>
<path d="M448.7 247.1L452.2 250.6L448.7 254.1L445.2 250.6Z" fill="#f00a14"/>
<path d="M460.8 257.3L464.3 260.8L460.8 264.3L457.3 260.8Z" fill="#f00a14"/>
<path d="M474.6 288L478.1 291.5L474.6 295L471.1 291.5Z" fill="#f00a14"/>
<path d="M490.4 329.8L493.9 333.3L490.4 336.8L486.9 333.3Z" fill="#f00a14"/>
<path d="M507.4 333.9L510.9 337.4L507.4 340.9L503.9 337.4Z" fill="#f00a14"/>
<path d="M527 334.1L530.5 337.6L527 341.1L523.5 337.6Z" fill="#f00a14"/>
<path d="M559 334.1L562.5 337.6L559 341.1L555.5 337.6Z" fill="#f00a14"/>
<path d="M594.8 334.1L598.3 337.6L594.8 341.1L591.3 337.6Z" fill="#f00a14"/>
<path d="M634.8 334.1L638.3 337.6L634.8 341.1L631.3 337.6Z" fill="#f00a14"/>
<path d="M663.7 334.1L667.2 337.6L663.7 341.1L660.2 337.6Z" fill="#f00a14"/>
<polyline points="79.34,535.4 85.58,540.4 98.06,534.9 123.02,515.8 147.98,485.8 172.94,450.1 197.9,428.6 222.86,418.8 247.82,419.2 272.78,426.5 297.74,437.3" fill="none" stroke="#0a0a0a" stroke-width="1.7" stroke-linejoin="round" />
<circle cx="79.34" cy="535.4" r="2.7" fill="#0a0a0a"/>
<circle cx="85.58" cy="540.4" r="2.7" fill="#0a0a0a"/>
<circle cx="98.06" cy="534.9" r="2.7" fill="#0a0a0a"/>
<circle cx="123.02" cy="515.8" r="2.7" fill="#0a0a0a"/>
<circle cx="147.98" cy="485.8" r="2.7" fill="#0a0a0a"/>
<circle cx="172.94" cy="450.1" r="2.7" fill="#0a0a0a"/>
<circle cx="197.9" cy="428.6" r="2.7" fill="#0a0a0a"/>
<circle cx="222.86" cy="418.8" r="2.7" fill="#0a0a0a"/>
<circle cx="247.82" cy="419.2" r="2.7" fill="#0a0a0a"/>
<circle cx="272.78" cy="426.5" r="2.7" fill="#0a0a0a"/>
<circle cx="297.74" cy="437.3" r="2.7" fill="#0a0a0a"/>
<polyline points="79.34,487.1 85.58,496.4 98.06,501.2 123.02,499.9 147.98,496.4 172.94,494.2 197.9,494.4 222.86,496.3 247.82,498.9 272.78,501.8 297.74,503.5" fill="none" stroke="#f02a80" stroke-width="2.2" stroke-linejoin="round" />
<polyline points="79.34,487.1 85.58,496.4 98.06,501.2 123.02,499.9 147.98,496.4 172.94,494.2 197.9,494.4 222.86,496.3 247.82,498.9 272.78,501.8 297.74,503.5" fill="none" stroke="#581030" stroke-width="0.8" stroke-linejoin="round" />
<path d="M79.34 483.7L82.74 487.1L79.34 490.5L75.94 487.1Z" fill="#f00a14"/>
<path d="M85.58 493L88.98 496.4L85.58 499.8L82.18 496.4Z" fill="#f00a14"/>
<path d="M98.06 497.8L101.46 501.2L98.06 504.6L94.66 501.2Z" fill="#f00a14"/>
<path d="M123.02 496.5L126.42 499.9L123.02 503.3L119.62 499.9Z" fill="#f00a14"/>
<path d="M147.98 493L151.38 496.4L147.98 499.8L144.58 496.4Z" fill="#f00a14"/>
<path d="M172.94 490.8L176.34 494.2L172.94 497.6L169.54 494.2Z" fill="#f00a14"/>
<path d="M197.9 491L201.3 494.4L197.9 497.8L194.5 494.4Z" fill="#f00a14"/>
<path d="M222.86 492.9L226.26 496.3L222.86 499.7L219.46 496.3Z" fill="#f00a14"/>
<path d="M247.82 495.5L251.22 498.9L247.82 502.3L244.42 498.9Z" fill="#f00a14"/>
<path d="M272.78 498.4L276.18 501.8L272.78 505.2L269.38 501.8Z" fill="#f00a14"/>
<path d="M297.74 500.1L301.14 503.5L297.74 506.9L294.34 503.5Z" fill="#f00a14"/>
<polyline points="79.34,721.3 85.58,719.8 98.06,717.1 123.02,711.2 147.98,703.2 172.94,691.6 197.9,675.7 222.86,656.2 247.82,637.5 272.78,618.3 297.74,600.1 322.7,582.7" fill="none" stroke="#0a0a0a" stroke-width="1.7" stroke-linejoin="round" />
<circle cx="79.34" cy="721.3" r="2.7" fill="#0a0a0a"/>
<circle cx="85.58" cy="719.8" r="2.7" fill="#0a0a0a"/>
<circle cx="98.06" cy="717.1" r="2.7" fill="#0a0a0a"/>
<circle cx="123.02" cy="711.2" r="2.7" fill="#0a0a0a"/>
<circle cx="147.98" cy="703.2" r="2.7" fill="#0a0a0a"/>
<circle cx="172.94" cy="691.6" r="2.7" fill="#0a0a0a"/>
<circle cx="197.9" cy="675.7" r="2.7" fill="#0a0a0a"/>
<circle cx="222.86" cy="656.2" r="2.7" fill="#0a0a0a"/>
<circle cx="247.82" cy="637.5" r="2.7" fill="#0a0a0a"/>
<circle cx="272.78" cy="618.3" r="2.7" fill="#0a0a0a"/>
<circle cx="297.74" cy="600.1" r="2.7" fill="#0a0a0a"/>
<circle cx="322.7" cy="582.7" r="2.7" fill="#0a0a0a"/>
<polyline points="79.34,716 85.58,712.7 98.06,708.3 123.02,698.2 147.98,687.8 172.94,677.5 197.9,667.3 222.86,656.2 247.82,645.8 272.78,635.5 297.74,625.6 322.7,616.1" fill="none" stroke="#f02a80" stroke-width="2.2" stroke-linejoin="round" />
<polyline points="79.34,716 85.58,712.7 98.06,708.3 123.02,698.2 147.98,687.8 172.94,677.5 197.9,667.3 222.86,656.2 247.82,645.8 272.78,635.5 297.74,625.6 322.7,616.1" fill="none" stroke="#581030" stroke-width="0.8" stroke-linejoin="round" />
<path d="M79.34 712.6L82.74 716L79.34 719.4L75.94 716Z" fill="#f00a14"/>
<path d="M85.58 709.3L88.98 712.7L85.58 716.1L82.18 712.7Z" fill="#f00a14"/>
<path d="M98.06 704.9L101.46 708.3L98.06 711.7L94.66 708.3Z" fill="#f00a14"/>
<path d="M123.02 694.8L126.42 698.2L123.02 701.6L119.62 698.2Z" fill="#f00a14"/>
<path d="M147.98 684.4L151.38 687.8L147.98 691.2L144.58 687.8Z" fill="#f00a14"/>
<path d="M172.94 674.1L176.34 677.5L172.94 680.9L169.54 677.5Z" fill="#f00a14"/>
<path d="M197.9 663.9L201.3 667.3L197.9 670.7L194.5 667.3Z" fill="#f00a14"/>
<path d="M222.86 652.8L226.26 656.2L222.86 659.6L219.46 656.2Z" fill="#f00a14"/>
<path d="M247.82 642.4L251.22 645.8L247.82 649.2L244.42 645.8Z" fill="#f00a14"/>
<path d="M272.78 632.1L276.18 635.5L272.78 638.9L269.38 635.5Z" fill="#f00a14"/>
<path d="M297.74 622.2L301.14 625.6L297.74 629L294.34 625.6Z" fill="#f00a14"/>
<path d="M322.7 612.7L326.1 616.1L322.7 619.5L319.3 616.1Z" fill="#f00a14"/>
<polyline points="411.8,561.8 486.3,561.8 511,451.2 535.5,447.8 560.8,439 585.7,435.1 610.8,430.7 635.7,425.4" fill="none" stroke="#0a0a0a" stroke-width="1.7" stroke-linejoin="round" />
<circle cx="511" cy="451.2" r="2.7" fill="#0a0a0a"/>
<circle cx="535.5" cy="447.8" r="2.7" fill="#0a0a0a"/>
<circle cx="560.8" cy="439" r="2.7" fill="#0a0a0a"/>
<circle cx="585.7" cy="435.1" r="2.7" fill="#0a0a0a"/>
<circle cx="610.8" cy="430.7" r="2.7" fill="#0a0a0a"/>
<circle cx="635.7" cy="425.4" r="2.7" fill="#0a0a0a"/>
<clipPath id="cd"><rect x="411.8" y="398.9" width="251" height="162.9"/></clipPath>
<g clip-path="url(#cd)">
<path d="M418.01 558.5L421.01 561.8L418.01 565.1L415.01 561.8Z" fill="#f00a14"/>
<path d="M424.23 558.5L427.23 561.8L424.23 565.1L421.23 561.8Z" fill="#f00a14"/>
<path d="M436.66 558.5L439.66 561.8L436.66 565.1L433.66 561.8Z" fill="#f00a14"/>
<path d="M461.52 558.5L464.52 561.8L461.52 565.1L458.52 561.8Z" fill="#f00a14"/>
<path d="M486.38 558.5L489.38 561.8L486.38 565.1L483.38 561.8Z" fill="#f00a14"/>
<path d="M511.24 558.5L514.24 561.8L511.24 565.1L508.24 561.8Z" fill="#f00a14"/>
<path d="M536.1 558.5L539.1 561.8L536.1 565.1L533.1 561.8Z" fill="#f00a14"/>
<path d="M560.96 558.5L563.96 561.8L560.96 565.1L557.96 561.8Z" fill="#f00a14"/>
<path d="M585.82 558.5L588.82 561.8L585.82 565.1L582.82 561.8Z" fill="#f00a14"/>
<path d="M610.68 558.5L613.68 561.8L610.68 565.1L607.68 561.8Z" fill="#f00a14"/>
<path d="M635.54 558.5L638.54 561.8L635.54 565.1L632.54 561.8Z" fill="#f00a14"/>
</g>
<polyline points="411.8,725.5 486.3,725.5 511.4,725.2 535.6,719.5 560.7,712.1 585.8,695.3 610.6,671.4 635.4,636.2 660.5,580.1" fill="none" stroke="#0a0a0a" stroke-width="1.7" stroke-linejoin="round" />
<circle cx="535.6" cy="719.5" r="2.7" fill="#0a0a0a"/>
<circle cx="560.7" cy="712.1" r="2.7" fill="#0a0a0a"/>
<circle cx="585.8" cy="695.3" r="2.7" fill="#0a0a0a"/>
<circle cx="610.6" cy="671.4" r="2.7" fill="#0a0a0a"/>
<circle cx="635.4" cy="636.2" r="2.7" fill="#0a0a0a"/>
<circle cx="660.5" cy="580.1" r="2.7" fill="#0a0a0a"/>
<path d="M418.01 722L421.21 725.5L418.01 729L414.81 725.5Z" fill="#f00a14"/>
<path d="M424.23 722L427.43 725.5L424.23 729L421.03 725.5Z" fill="#f00a14"/>
<path d="M436.66 722L439.86 725.5L436.66 729L433.46 725.5Z" fill="#f00a14"/>
<path d="M461.52 722L464.72 725.5L461.52 729L458.32 725.5Z" fill="#f00a14"/>
<path d="M486.38 722L489.58 725.5L486.38 729L483.18 725.5Z" fill="#f00a14"/>
<path d="M511.24 722L514.44 725.5L511.24 729L508.04 725.5Z" fill="#f00a14"/>
<path d="M536.1 722L539.3 725.5L536.1 729L532.9 725.5Z" fill="#f00a14"/>
<path d="M560.96 722L564.16 725.5L560.96 729L557.76 725.5Z" fill="#f00a14"/>
<path d="M585.82 722L589.02 725.5L585.82 729L582.62 725.5Z" fill="#f00a14"/>
<path d="M610.68 722L613.88 725.5L610.68 729L607.48 725.5Z" fill="#f00a14"/>
<path d="M635.54 722L638.74 725.5L635.54 729L632.34 725.5Z" fill="#f00a14"/>
<path d="M660.4 722L663.6 725.5L660.4 729L657.2 725.5Z" fill="#f00a14"/>
<line x1="99.92" y1="3.4" x2="99.92" y2="6.1" stroke="#1c2a30" stroke-width="1.2" />
<line x1="99.92" y1="170.6" x2="99.92" y2="173.3" stroke="#1c2a30" stroke-width="1.2" />
<line x1="99.92" y1="170.6" x2="99.92" y2="167.9" stroke="#1c2a30" stroke-width="1.2" />
<line x1="99.92" y1="337.6" x2="99.92" y2="334.9" stroke="#1c2a30" stroke-width="1.2" />
<line x1="128.54" y1="3.4" x2="128.54" y2="6.1" stroke="#1c2a30" stroke-width="1.2" />
<line x1="128.54" y1="170.6" x2="128.54" y2="173.3" stroke="#1c2a30" stroke-width="1.2" />
<line x1="128.54" y1="170.6" x2="128.54" y2="167.9" stroke="#1c2a30" stroke-width="1.2" />
<line x1="128.54" y1="337.6" x2="128.54" y2="334.9" stroke="#1c2a30" stroke-width="1.2" />
<line x1="157.16" y1="3.4" x2="157.16" y2="6.1" stroke="#1c2a30" stroke-width="1.2" />
<line x1="157.16" y1="170.6" x2="157.16" y2="173.3" stroke="#1c2a30" stroke-width="1.2" />
<line x1="157.16" y1="170.6" x2="157.16" y2="167.9" stroke="#1c2a30" stroke-width="1.2" />
<line x1="157.16" y1="337.6" x2="157.16" y2="334.9" stroke="#1c2a30" stroke-width="1.2" />
<line x1="185.78" y1="3.4" x2="185.78" y2="6.1" stroke="#1c2a30" stroke-width="1.2" />
<line x1="185.78" y1="170.6" x2="185.78" y2="173.3" stroke="#1c2a30" stroke-width="1.2" />
<line x1="185.78" y1="170.6" x2="185.78" y2="167.9" stroke="#1c2a30" stroke-width="1.2" />
<line x1="185.78" y1="337.6" x2="185.78" y2="334.9" stroke="#1c2a30" stroke-width="1.2" />
<line x1="214.4" y1="3.4" x2="214.4" y2="6.1" stroke="#1c2a30" stroke-width="1.2" />
<line x1="214.4" y1="170.6" x2="214.4" y2="173.3" stroke="#1c2a30" stroke-width="1.2" />
<line x1="214.4" y1="170.6" x2="214.4" y2="167.9" stroke="#1c2a30" stroke-width="1.2" />
<line x1="214.4" y1="337.6" x2="214.4" y2="334.9" stroke="#1c2a30" stroke-width="1.2" />
<line x1="243.02" y1="3.4" x2="243.02" y2="6.1" stroke="#1c2a30" stroke-width="1.2" />
<line x1="243.02" y1="170.6" x2="243.02" y2="173.3" stroke="#1c2a30" stroke-width="1.2" />
<line x1="243.02" y1="170.6" x2="243.02" y2="167.9" stroke="#1c2a30" stroke-width="1.2" />
<line x1="243.02" y1="337.6" x2="243.02" y2="334.9" stroke="#1c2a30" stroke-width="1.2" />
<line x1="271.64" y1="3.4" x2="271.64" y2="6.1" stroke="#1c2a30" stroke-width="1.2" />
<line x1="271.64" y1="170.6" x2="271.64" y2="173.3" stroke="#1c2a30" stroke-width="1.2" />
<line x1="271.64" y1="170.6" x2="271.64" y2="167.9" stroke="#1c2a30" stroke-width="1.2" />
<line x1="271.64" y1="337.6" x2="271.64" y2="334.9" stroke="#1c2a30" stroke-width="1.2" />
<line x1="300.26" y1="3.4" x2="300.26" y2="6.1" stroke="#1c2a30" stroke-width="1.2" />
<line x1="300.26" y1="170.6" x2="300.26" y2="173.3" stroke="#1c2a30" stroke-width="1.2" />
<line x1="300.26" y1="170.6" x2="300.26" y2="167.9" stroke="#1c2a30" stroke-width="1.2" />
<line x1="300.26" y1="337.6" x2="300.26" y2="334.9" stroke="#1c2a30" stroke-width="1.2" />
<line x1="71.3" y1="145.57" x2="74" y2="145.57" stroke="#43575f" stroke-width="1.2" />
<line x1="328.6" y1="145.57" x2="325.9" y2="145.57" stroke="#43575f" stroke-width="1.2" />
<line x1="71.3" y1="120.54" x2="74" y2="120.54" stroke="#43575f" stroke-width="1.2" />
<line x1="328.6" y1="120.54" x2="325.9" y2="120.54" stroke="#43575f" stroke-width="1.2" />
<line x1="71.3" y1="95.51" x2="74" y2="95.51" stroke="#43575f" stroke-width="1.2" />
<line x1="328.6" y1="95.51" x2="325.9" y2="95.51" stroke="#43575f" stroke-width="1.2" />
<line x1="71.3" y1="70.48" x2="74" y2="70.48" stroke="#43575f" stroke-width="1.2" />
<line x1="328.6" y1="70.48" x2="325.9" y2="70.48" stroke="#43575f" stroke-width="1.2" />
<line x1="71.3" y1="45.45" x2="74" y2="45.45" stroke="#43575f" stroke-width="1.2" />
<line x1="328.6" y1="45.45" x2="325.9" y2="45.45" stroke="#43575f" stroke-width="1.2" />
<line x1="71.3" y1="20.42" x2="74" y2="20.42" stroke="#43575f" stroke-width="1.2" />
<line x1="328.6" y1="20.42" x2="325.9" y2="20.42" stroke="#43575f" stroke-width="1.2" />
<line x1="71.3" y1="312.53" x2="74" y2="312.53" stroke="#43575f" stroke-width="1.2" />
<line x1="328.6" y1="312.53" x2="325.9" y2="312.53" stroke="#43575f" stroke-width="1.2" />
<line x1="71.3" y1="287.46" x2="74" y2="287.46" stroke="#43575f" stroke-width="1.2" />
<line x1="328.6" y1="287.46" x2="325.9" y2="287.46" stroke="#43575f" stroke-width="1.2" />
<line x1="71.3" y1="262.39" x2="74" y2="262.39" stroke="#43575f" stroke-width="1.2" />
<line x1="328.6" y1="262.39" x2="325.9" y2="262.39" stroke="#43575f" stroke-width="1.2" />
<line x1="71.3" y1="237.32" x2="74" y2="237.32" stroke="#43575f" stroke-width="1.2" />
<line x1="328.6" y1="237.32" x2="325.9" y2="237.32" stroke="#43575f" stroke-width="1.2" />
<line x1="71.3" y1="212.25" x2="74" y2="212.25" stroke="#43575f" stroke-width="1.2" />
<line x1="328.6" y1="212.25" x2="325.9" y2="212.25" stroke="#43575f" stroke-width="1.2" />
<line x1="71.3" y1="187.18" x2="74" y2="187.18" stroke="#43575f" stroke-width="1.2" />
<line x1="328.6" y1="187.18" x2="325.9" y2="187.18" stroke="#43575f" stroke-width="1.2" />
<line x1="71.3" y1="3.4" x2="328.6" y2="3.4" stroke="#1c2a30" stroke-width="1.7" stroke-linecap="square"/>
<line x1="71.3" y1="170.6" x2="328.6" y2="170.6" stroke="#1c2a30" stroke-width="1.7" />
<line x1="71.3" y1="337.6" x2="328.6" y2="337.6" stroke="#1c2a30" stroke-width="1.7" stroke-linecap="square"/>
<line x1="71.3" y1="3.4" x2="71.3" y2="337.6" stroke="#43575f" stroke-width="2.0" />
<line x1="328.6" y1="3.4" x2="328.6" y2="337.6" stroke="#1c2a30" stroke-width="1.9" />
<line x1="440.62" y1="3.4" x2="440.62" y2="6.1" stroke="#141420" stroke-width="1.2" />
<line x1="440.62" y1="170.6" x2="440.62" y2="173.3" stroke="#141420" stroke-width="1.2" />
<line x1="440.62" y1="170.6" x2="440.62" y2="167.9" stroke="#141420" stroke-width="1.2" />
<line x1="440.62" y1="337.6" x2="440.62" y2="334.9" stroke="#141420" stroke-width="1.2" />
<line x1="469.24" y1="3.4" x2="469.24" y2="6.1" stroke="#141420" stroke-width="1.2" />
<line x1="469.24" y1="170.6" x2="469.24" y2="173.3" stroke="#141420" stroke-width="1.2" />
<line x1="469.24" y1="170.6" x2="469.24" y2="167.9" stroke="#141420" stroke-width="1.2" />
<line x1="469.24" y1="337.6" x2="469.24" y2="334.9" stroke="#141420" stroke-width="1.2" />
<line x1="497.86" y1="3.4" x2="497.86" y2="6.1" stroke="#141420" stroke-width="1.2" />
<line x1="497.86" y1="170.6" x2="497.86" y2="173.3" stroke="#141420" stroke-width="1.2" />
<line x1="497.86" y1="170.6" x2="497.86" y2="167.9" stroke="#141420" stroke-width="1.2" />
<line x1="497.86" y1="337.6" x2="497.86" y2="334.9" stroke="#141420" stroke-width="1.2" />
<line x1="526.48" y1="3.4" x2="526.48" y2="6.1" stroke="#141420" stroke-width="1.2" />
<line x1="526.48" y1="170.6" x2="526.48" y2="173.3" stroke="#141420" stroke-width="1.2" />
<line x1="526.48" y1="170.6" x2="526.48" y2="167.9" stroke="#141420" stroke-width="1.2" />
<line x1="526.48" y1="337.6" x2="526.48" y2="334.9" stroke="#141420" stroke-width="1.2" />
<line x1="555.1" y1="3.4" x2="555.1" y2="6.1" stroke="#141420" stroke-width="1.2" />
<line x1="555.1" y1="170.6" x2="555.1" y2="173.3" stroke="#141420" stroke-width="1.2" />
<line x1="555.1" y1="170.6" x2="555.1" y2="167.9" stroke="#141420" stroke-width="1.2" />
<line x1="555.1" y1="337.6" x2="555.1" y2="334.9" stroke="#141420" stroke-width="1.2" />
<line x1="583.72" y1="3.4" x2="583.72" y2="6.1" stroke="#141420" stroke-width="1.2" />
<line x1="583.72" y1="170.6" x2="583.72" y2="173.3" stroke="#141420" stroke-width="1.2" />
<line x1="583.72" y1="170.6" x2="583.72" y2="167.9" stroke="#141420" stroke-width="1.2" />
<line x1="583.72" y1="337.6" x2="583.72" y2="334.9" stroke="#141420" stroke-width="1.2" />
<line x1="612.34" y1="3.4" x2="612.34" y2="6.1" stroke="#141420" stroke-width="1.2" />
<line x1="612.34" y1="170.6" x2="612.34" y2="173.3" stroke="#141420" stroke-width="1.2" />
<line x1="612.34" y1="170.6" x2="612.34" y2="167.9" stroke="#141420" stroke-width="1.2" />
<line x1="612.34" y1="337.6" x2="612.34" y2="334.9" stroke="#141420" stroke-width="1.2" />
<line x1="640.96" y1="3.4" x2="640.96" y2="6.1" stroke="#141420" stroke-width="1.2" />
<line x1="640.96" y1="170.6" x2="640.96" y2="173.3" stroke="#141420" stroke-width="1.2" />
<line x1="640.96" y1="170.6" x2="640.96" y2="167.9" stroke="#141420" stroke-width="1.2" />
<line x1="640.96" y1="337.6" x2="640.96" y2="334.9" stroke="#141420" stroke-width="1.2" />
<line x1="412" y1="33.2" x2="414.7" y2="33.2" stroke="#1a1a40" stroke-width="1.2" />
<line x1="668.8" y1="33.2" x2="666.1" y2="33.2" stroke="#1a1a40" stroke-width="1.2" />
<line x1="412" y1="8.95" x2="414.7" y2="8.95" stroke="#1a1a40" stroke-width="1.2" />
<line x1="668.8" y1="8.95" x2="666.1" y2="8.95" stroke="#1a1a40" stroke-width="1.2" />
<line x1="412" y1="67.9" x2="414.7" y2="67.9" stroke="#1a1a40" stroke-width="1.2" />
<line x1="668.8" y1="67.9" x2="666.1" y2="67.9" stroke="#1a1a40" stroke-width="1.2" />
<line x1="412" y1="43.65" x2="414.7" y2="43.65" stroke="#1a1a40" stroke-width="1.2" />
<line x1="668.8" y1="43.65" x2="666.1" y2="43.65" stroke="#1a1a40" stroke-width="1.2" />
<line x1="412" y1="102.6" x2="414.7" y2="102.6" stroke="#1a1a40" stroke-width="1.2" />
<line x1="668.8" y1="102.6" x2="666.1" y2="102.6" stroke="#1a1a40" stroke-width="1.2" />
<line x1="412" y1="78.35" x2="414.7" y2="78.35" stroke="#1a1a40" stroke-width="1.2" />
<line x1="668.8" y1="78.35" x2="666.1" y2="78.35" stroke="#1a1a40" stroke-width="1.2" />
<line x1="412" y1="137.3" x2="414.7" y2="137.3" stroke="#1a1a40" stroke-width="1.2" />
<line x1="668.8" y1="137.3" x2="666.1" y2="137.3" stroke="#1a1a40" stroke-width="1.2" />
<line x1="412" y1="113.05" x2="414.7" y2="113.05" stroke="#1a1a40" stroke-width="1.2" />
<line x1="668.8" y1="113.05" x2="666.1" y2="113.05" stroke="#1a1a40" stroke-width="1.2" />
<line x1="412" y1="147.75" x2="414.7" y2="147.75" stroke="#1a1a40" stroke-width="1.2" />
<line x1="668.8" y1="147.75" x2="666.1" y2="147.75" stroke="#1a1a40" stroke-width="1.2" />
<line x1="412" y1="316.85" x2="414.7" y2="316.85" stroke="#1a1a40" stroke-width="1.2" />
<line x1="668.8" y1="316.85" x2="666.1" y2="316.85" stroke="#1a1a40" stroke-width="1.2" />
<line x1="412" y1="296.1" x2="414.7" y2="296.1" stroke="#1a1a40" stroke-width="1.2" />
<line x1="668.8" y1="296.1" x2="666.1" y2="296.1" stroke="#1a1a40" stroke-width="1.2" />
<line x1="412" y1="275.35" x2="414.7" y2="275.35" stroke="#1a1a40" stroke-width="1.2" />
<line x1="668.8" y1="275.35" x2="666.1" y2="275.35" stroke="#1a1a40" stroke-width="1.2" />
<line x1="412" y1="254.6" x2="414.7" y2="254.6" stroke="#1a1a40" stroke-width="1.2" />
<line x1="668.8" y1="254.6" x2="666.1" y2="254.6" stroke="#1a1a40" stroke-width="1.2" />
<line x1="412" y1="233.85" x2="414.7" y2="233.85" stroke="#1a1a40" stroke-width="1.2" />
<line x1="668.8" y1="233.85" x2="666.1" y2="233.85" stroke="#1a1a40" stroke-width="1.2" />
<line x1="412" y1="213.1" x2="414.7" y2="213.1" stroke="#1a1a40" stroke-width="1.2" />
<line x1="668.8" y1="213.1" x2="666.1" y2="213.1" stroke="#1a1a40" stroke-width="1.2" />
<line x1="412" y1="192.35" x2="414.7" y2="192.35" stroke="#1a1a40" stroke-width="1.2" />
<line x1="668.8" y1="192.35" x2="666.1" y2="192.35" stroke="#1a1a40" stroke-width="1.2" />
<line x1="412" y1="3.4" x2="668.8" y2="3.4" stroke="#141420" stroke-width="1.7" stroke-linecap="square"/>
<line x1="412" y1="170.6" x2="668.8" y2="170.6" stroke="#141420" stroke-width="1.7" />
<line x1="412" y1="337.6" x2="668.8" y2="337.6" stroke="#141420" stroke-width="1.7" stroke-linecap="square"/>
<line x1="412" y1="3.4" x2="412" y2="337.6" stroke="#1a1a40" stroke-width="2.0" />
<line x1="668.8" y1="3.4" x2="668.8" y2="337.6" stroke="#141420" stroke-width="1.9" />
<line x1="135.5" y1="399" x2="135.5" y2="401.7" stroke="#1c2a30" stroke-width="1.2" />
<line x1="135.5" y1="562" x2="135.5" y2="564.7" stroke="#1c2a30" stroke-width="1.2" />
<line x1="135.5" y1="562" x2="135.5" y2="559.3" stroke="#1c2a30" stroke-width="1.2" />
<line x1="135.5" y1="725" x2="135.5" y2="722.3" stroke="#1c2a30" stroke-width="1.2" />
<line x1="197.9" y1="399" x2="197.9" y2="401.7" stroke="#1c2a30" stroke-width="1.2" />
<line x1="197.9" y1="562" x2="197.9" y2="564.7" stroke="#1c2a30" stroke-width="1.2" />
<line x1="197.9" y1="562" x2="197.9" y2="559.3" stroke="#1c2a30" stroke-width="1.2" />
<line x1="197.9" y1="725" x2="197.9" y2="722.3" stroke="#1c2a30" stroke-width="1.2" />
<line x1="260.3" y1="399" x2="260.3" y2="401.7" stroke="#1c2a30" stroke-width="1.2" />
<line x1="260.3" y1="562" x2="260.3" y2="564.7" stroke="#1c2a30" stroke-width="1.2" />
<line x1="260.3" y1="562" x2="260.3" y2="559.3" stroke="#1c2a30" stroke-width="1.2" />
<line x1="260.3" y1="725" x2="260.3" y2="722.3" stroke="#1c2a30" stroke-width="1.2" />
<line x1="322.7" y1="399" x2="322.7" y2="401.7" stroke="#1c2a30" stroke-width="1.2" />
<line x1="322.7" y1="562" x2="322.7" y2="564.7" stroke="#1c2a30" stroke-width="1.2" />
<line x1="322.7" y1="562" x2="322.7" y2="559.3" stroke="#1c2a30" stroke-width="1.2" />
<line x1="322.7" y1="725" x2="322.7" y2="722.3" stroke="#1c2a30" stroke-width="1.2" />
<line x1="73.1" y1="561.9" x2="75.8" y2="561.9" stroke="#43575f" stroke-width="1.2" />
<line x1="324.4" y1="561.9" x2="321.7" y2="561.9" stroke="#43575f" stroke-width="1.2" />
<line x1="73.1" y1="537.2" x2="75.8" y2="537.2" stroke="#43575f" stroke-width="1.2" />
<line x1="324.4" y1="537.2" x2="321.7" y2="537.2" stroke="#43575f" stroke-width="1.2" />
<line x1="73.1" y1="512.5" x2="75.8" y2="512.5" stroke="#43575f" stroke-width="1.2" />
<line x1="324.4" y1="512.5" x2="321.7" y2="512.5" stroke="#43575f" stroke-width="1.2" />
<line x1="73.1" y1="487.8" x2="75.8" y2="487.8" stroke="#43575f" stroke-width="1.2" />
<line x1="324.4" y1="487.8" x2="321.7" y2="487.8" stroke="#43575f" stroke-width="1.2" />
<line x1="73.1" y1="463.1" x2="75.8" y2="463.1" stroke="#43575f" stroke-width="1.2" />
<line x1="324.4" y1="463.1" x2="321.7" y2="463.1" stroke="#43575f" stroke-width="1.2" />
<line x1="73.1" y1="438.4" x2="75.8" y2="438.4" stroke="#43575f" stroke-width="1.2" />
<line x1="324.4" y1="438.4" x2="321.7" y2="438.4" stroke="#43575f" stroke-width="1.2" />
<line x1="73.1" y1="680.8" x2="75.8" y2="680.8" stroke="#43575f" stroke-width="1.2" />
<line x1="324.4" y1="680.8" x2="321.7" y2="680.8" stroke="#43575f" stroke-width="1.2" />
<line x1="73.1" y1="636.6" x2="75.8" y2="636.6" stroke="#43575f" stroke-width="1.2" />
<line x1="324.4" y1="636.6" x2="321.7" y2="636.6" stroke="#43575f" stroke-width="1.2" />
<line x1="73.1" y1="592.4" x2="75.8" y2="592.4" stroke="#43575f" stroke-width="1.2" />
<line x1="324.4" y1="592.4" x2="321.7" y2="592.4" stroke="#43575f" stroke-width="1.2" />
<line x1="73.1" y1="399" x2="324.4" y2="399" stroke="#1c2a30" stroke-width="1.7" stroke-linecap="square"/>
<line x1="73.1" y1="562" x2="324.4" y2="562" stroke="#1c2a30" stroke-width="1.7" />
<line x1="73.1" y1="725" x2="324.4" y2="725" stroke="#1c2a30" stroke-width="1.7" stroke-linecap="square"/>
<line x1="73.1" y1="399" x2="73.1" y2="725" stroke="#43575f" stroke-width="2.0" />
<line x1="324.4" y1="399" x2="324.4" y2="725" stroke="#1c2a30" stroke-width="1.9" />
<line x1="473.95" y1="398.9" x2="473.95" y2="401.6" stroke="#1c2a30" stroke-width="1.2" />
<line x1="473.95" y1="561.8" x2="473.95" y2="564.5" stroke="#1c2a30" stroke-width="1.2" />
<line x1="473.95" y1="561.8" x2="473.95" y2="559.1" stroke="#1c2a30" stroke-width="1.2" />
<line x1="473.95" y1="725.5" x2="473.95" y2="722.8" stroke="#1c2a30" stroke-width="1.2" />
<line x1="536.1" y1="398.9" x2="536.1" y2="401.6" stroke="#1c2a30" stroke-width="1.2" />
<line x1="536.1" y1="561.8" x2="536.1" y2="564.5" stroke="#1c2a30" stroke-width="1.2" />
<line x1="536.1" y1="561.8" x2="536.1" y2="559.1" stroke="#1c2a30" stroke-width="1.2" />
<line x1="536.1" y1="725.5" x2="536.1" y2="722.8" stroke="#1c2a30" stroke-width="1.2" />
<line x1="598.25" y1="398.9" x2="598.25" y2="401.6" stroke="#1c2a30" stroke-width="1.2" />
<line x1="598.25" y1="561.8" x2="598.25" y2="564.5" stroke="#1c2a30" stroke-width="1.2" />
<line x1="598.25" y1="561.8" x2="598.25" y2="559.1" stroke="#1c2a30" stroke-width="1.2" />
<line x1="598.25" y1="725.5" x2="598.25" y2="722.8" stroke="#1c2a30" stroke-width="1.2" />
<line x1="660.4" y1="398.9" x2="660.4" y2="401.6" stroke="#1c2a30" stroke-width="1.2" />
<line x1="660.4" y1="561.8" x2="660.4" y2="564.5" stroke="#1c2a30" stroke-width="1.2" />
<line x1="660.4" y1="561.8" x2="660.4" y2="559.1" stroke="#1c2a30" stroke-width="1.2" />
<line x1="660.4" y1="725.5" x2="660.4" y2="722.8" stroke="#1c2a30" stroke-width="1.2" />
<line x1="411.8" y1="406.1" x2="414.5" y2="406.1" stroke="#43575f" stroke-width="1.2" />
<line x1="662.7" y1="406.1" x2="660" y2="406.1" stroke="#43575f" stroke-width="1.2" />
<line x1="411.8" y1="458.4" x2="414.5" y2="458.4" stroke="#43575f" stroke-width="1.2" />
<line x1="662.7" y1="458.4" x2="660" y2="458.4" stroke="#43575f" stroke-width="1.2" />
<line x1="411.8" y1="510.7" x2="414.5" y2="510.7" stroke="#43575f" stroke-width="1.2" />
<line x1="662.7" y1="510.7" x2="660" y2="510.7" stroke="#43575f" stroke-width="1.2" />
<line x1="411.8" y1="702.2" x2="414.5" y2="702.2" stroke="#43575f" stroke-width="1.2" />
<line x1="662.7" y1="702.2" x2="660" y2="702.2" stroke="#43575f" stroke-width="1.2" />
<line x1="411.8" y1="678.9" x2="414.5" y2="678.9" stroke="#43575f" stroke-width="1.2" />
<line x1="662.7" y1="678.9" x2="660" y2="678.9" stroke="#43575f" stroke-width="1.2" />
<line x1="411.8" y1="655.6" x2="414.5" y2="655.6" stroke="#43575f" stroke-width="1.2" />
<line x1="662.7" y1="655.6" x2="660" y2="655.6" stroke="#43575f" stroke-width="1.2" />
<line x1="411.8" y1="632.3" x2="414.5" y2="632.3" stroke="#43575f" stroke-width="1.2" />
<line x1="662.7" y1="632.3" x2="660" y2="632.3" stroke="#43575f" stroke-width="1.2" />
<line x1="411.8" y1="609" x2="414.5" y2="609" stroke="#43575f" stroke-width="1.2" />
<line x1="662.7" y1="609" x2="660" y2="609" stroke="#43575f" stroke-width="1.2" />
<line x1="411.8" y1="585.7" x2="414.5" y2="585.7" stroke="#43575f" stroke-width="1.2" />
<line x1="662.7" y1="585.7" x2="660" y2="585.7" stroke="#43575f" stroke-width="1.2" />
<line x1="411.8" y1="398.9" x2="662.7" y2="398.9" stroke="#1c2a30" stroke-width="1.7" stroke-linecap="square"/>
<line x1="411.8" y1="561.8" x2="662.7" y2="561.8" stroke="#1c2a30" stroke-width="1.7" />
<line x1="411.8" y1="725.5" x2="662.7" y2="725.5" stroke="#1c2a30" stroke-width="1.7" stroke-linecap="square"/>
<line x1="411.8" y1="398.9" x2="411.8" y2="725.5" stroke="#43575f" stroke-width="2.0" />
<line x1="662.7" y1="398.9" x2="662.7" y2="725.5" stroke="#1c2a30" stroke-width="1.9" />
<text stroke="#000" stroke-width="0.55" x="30.59" y="26.4" font-size="18.5" fill="#000">0.09</text>
<text stroke="#000" stroke-width="0.55" x="30.59" y="77.3" font-size="18.5" fill="#000">0.06</text>
<text stroke="#000" stroke-width="0.55" x="30.59" y="127.3" font-size="18.5" fill="#000">0.03</text>
<text stroke="#000" stroke-width="0.55" x="56.31" y="177.4" font-size="18.5" fill="#000">0</text>
<text stroke="#000" stroke-width="0.55" x="45.82" y="194" font-size="18.5" fill="#000">90</text>
<text stroke="#000" stroke-width="0.55" x="45.82" y="244.1" font-size="18.5" fill="#000">60</text>
<text stroke="#000" stroke-width="0.55" x="45.82" y="294.3" font-size="18.5" fill="#000">30</text>
<text stroke="#000" stroke-width="0.55" x="56.11" y="344.4" font-size="18.5" fill="#000">0</text>
<text stroke="#000" stroke-width="0.55" x="68.56" y="355.5" font-size="18.5" fill="#000">0</text>
<text stroke="#000" stroke-width="0.55" x="120.65" y="355.5" font-size="18.5" fill="#000">40</text>
<text stroke="#000" stroke-width="0.55" x="177.89" y="355.5" font-size="18.5" fill="#000">80</text>
<path d="M235.35 355.5L237.02 355.5L237.02 342.49L235.8 342.49L235.54 343.25L235.02 343.94L234.15 344.47L233.04 344.77L231.91 344.88L231.91 346.1L233.13 346.03L234.24 345.81L234.94 345.47L235.35 345.1Z" fill="#000" stroke="#000" stroke-width="0.55" stroke-linejoin="round"/>
<text stroke="#000" stroke-width="0.55" x="240.28" y="355.5" font-size="18.5" fill="#000">20</text>
<path d="M292.59 355.5L294.26 355.5L294.26 342.49L293.04 342.49L292.78 343.25L292.26 343.94L291.39 344.47L290.28 344.77L289.15 344.88L289.15 346.1L290.37 346.03L291.48 345.81L292.18 345.47L292.59 345.1Z" fill="#000" stroke="#000" stroke-width="0.55" stroke-linejoin="round"/>
<text stroke="#000" stroke-width="0.55" x="297.52" y="355.5" font-size="18.5" fill="#000">60</text>
<text stroke="#000" stroke-width="0.55" x="124.9" y="379.3" font-size="20.8" fill="#000"  >Flake size [nm</text>
<text stroke="#000" stroke-width="0.55" x="259.3" y="369.6" font-size="14.5" fill="#000"  >2</text>
<text stroke="#000" stroke-width="0.55" x="269.2" y="379" font-size="20.0" fill="#000"  >]</text>
<text stroke="#000" stroke-width="0.55" x="76.42" y="23.9" font-size="18.3" fill="#000" textLength="22.03" lengthAdjust="spacingAndGlyphs" >(a)</text>
<text stroke="#000" stroke-width="0.55" x="177.8" y="51.6" font-size="20.9" fill="#000" textLength="135.94" lengthAdjust="spacingAndGlyphs" >Homogeneous</text>
<text stroke="#dc0c1c" stroke-width="0.55" x="177.8" y="150.7" font-size="20.9" fill="#dc0c1c" textLength="143.02" lengthAdjust="spacingAndGlyphs" >Heterogeneous</text>
<text stroke="#000" stroke-width="0.55" x="0" y="0" font-size="20.5" transform="translate(12.6,101) rotate(-90)">&#956;<tspan font-size="17.5" dy="7">s</tspan></text>
<text stroke="#000" stroke-width="0.55" x="0" y="0" font-size="20.5" transform="translate(32.1,287) rotate(-90)">F<tspan font-size="17.5" dy="7">s</tspan><tspan dy="-7"> [nN]</tspan></text>
<path d="M376.71 41.5L378.38 41.5L378.38 28.49L377.15 28.49L376.9 29.25L376.38 29.94L375.51 30.47L374.4 30.77L373.27 30.88L373.27 32.1L374.49 32.03L375.6 31.81L376.3 31.47L376.71 31.1Z" fill="#000" stroke="#000" stroke-width="0.55" stroke-linejoin="round"/>
<text stroke="#000" stroke-width="0.55" x="381.63" y="41.5" font-size="18.5" fill="#000">0</text>
<text stroke="#000" stroke-width="0.55" x="391.32" y="32.7" font-size="14" fill="#000">−</text>
<path d="M403.56 32.7L404.82 32.7L404.82 22.86L403.9 22.86L403.7 23.43L403.31 23.95L402.65 24.36L401.81 24.58L400.96 24.66L400.96 25.59L401.88 25.53L402.72 25.36L403.25 25.11L403.56 24.83Z" fill="#000" stroke="#000" stroke-width="0.55" stroke-linejoin="round"/>
<path d="M376.71 76L378.38 76L378.38 62.99L377.15 62.99L376.9 63.75L376.38 64.44L375.51 64.97L374.4 65.27L373.27 65.38L373.27 66.6L374.49 66.53L375.6 66.31L376.3 65.97L376.71 65.6Z" fill="#000" stroke="#000" stroke-width="0.55" stroke-linejoin="round"/>
<text stroke="#000" stroke-width="0.55" x="381.63" y="76" font-size="18.5" fill="#000">0</text>
<text stroke="#000" stroke-width="0.55" x="391.32" y="67.2" font-size="14" fill="#000">−2</text>
<path d="M376.61 110.5L378.28 110.5L378.28 97.49L377.05 97.49L376.8 98.25L376.28 98.94L375.41 99.47L374.3 99.77L373.17 99.88L373.17 101.1L374.39 101.03L375.5 100.81L376.2 100.47L376.61 100.1Z" fill="#000" stroke="#000" stroke-width="0.55" stroke-linejoin="round"/>
<text stroke="#000" stroke-width="0.55" x="381.53" y="110.5" font-size="18.5" fill="#000">0</text>
<text stroke="#000" stroke-width="0.55" x="391.22" y="101.7" font-size="14" fill="#000">−3</text>
<path d="M376.41 145L378.08 145L378.08 131.99L376.85 131.99L376.6 132.75L376.08 133.44L375.21 133.97L374.1 134.27L372.97 134.38L372.97 135.6L374.19 135.53L375.3 135.31L376 134.97L376.41 134.6Z" fill="#000" stroke="#000" stroke-width="0.55" stroke-linejoin="round"/>
<text stroke="#000" stroke-width="0.55" x="381.33" y="145" font-size="18.5" fill="#000">0</text>
<text stroke="#000" stroke-width="0.55" x="391.02" y="136.2" font-size="14" fill="#000">−4</text>
<text stroke="#000" stroke-width="0.55" x="397.01" y="177.6" font-size="18.5" fill="#000">0</text>
<text stroke="#000" stroke-width="0.55" x="397.21" y="219.8" font-size="18.5" fill="#000">9</text>
<text stroke="#000" stroke-width="0.55" x="397.21" y="262.1" font-size="18.5" fill="#000">6</text>
<text stroke="#000" stroke-width="0.55" x="397.21" y="303.4" font-size="18.5" fill="#000">3</text>
<text stroke="#000" stroke-width="0.55" x="397.21" y="344.4" font-size="18.5" fill="#000">0</text>
<text stroke="#000" stroke-width="0.55" x="409.26" y="355.5" font-size="18.5" fill="#000">0</text>
<text stroke="#000" stroke-width="0.55" x="461.35" y="355.5" font-size="18.5" fill="#000">40</text>
<text stroke="#000" stroke-width="0.55" x="518.59" y="355.5" font-size="18.5" fill="#000">80</text>
<path d="M576.05 355.5L577.72 355.5L577.72 342.49L576.5 342.49L576.24 343.25L575.72 343.94L574.85 344.47L573.74 344.77L572.61 344.88L572.61 346.1L573.83 346.03L574.94 345.81L575.64 345.47L576.05 345.1Z" fill="#000" stroke="#000" stroke-width="0.55" stroke-linejoin="round"/>
<text stroke="#000" stroke-width="0.55" x="580.98" y="355.5" font-size="18.5" fill="#000">20</text>
<path d="M633.29 355.5L634.96 355.5L634.96 342.49L633.74 342.49L633.48 343.25L632.96 343.94L632.09 344.47L630.98 344.77L629.85 344.88L629.85 346.1L631.07 346.03L632.18 345.81L632.88 345.47L633.29 345.1Z" fill="#000" stroke="#000" stroke-width="0.55" stroke-linejoin="round"/>
<text stroke="#000" stroke-width="0.55" x="638.22" y="355.5" font-size="18.5" fill="#000">60</text>
<text stroke="#000" stroke-width="0.55" x="465.8" y="379.3" font-size="20.8" fill="#000"  >Flake size [nm</text>
<text stroke="#000" stroke-width="0.55" x="600.2" y="369.6" font-size="14.5" fill="#000"  >2</text>
<text stroke="#000" stroke-width="0.55" x="610.1" y="379" font-size="20.0" fill="#000"  >]</text>
<text stroke="#000" stroke-width="0.55" x="417.24" y="23.3" font-size="18.3" fill="#000" textLength="21.59" lengthAdjust="spacingAndGlyphs" >(b)</text>
<text stroke="#000" stroke-width="0.55" x="518.2" y="39.1" font-size="20.9" fill="#000" textLength="136.04" lengthAdjust="spacingAndGlyphs" >Homogeneous</text>
<text stroke="#dc0c1c" stroke-width="0.55" x="518.91" y="158.6" font-size="20.9" fill="#dc0c1c" textLength="142.41" lengthAdjust="spacingAndGlyphs" >Heterogeneous</text>
<text stroke="#000" stroke-width="0.55" x="0" y="0" font-size="20.5" transform="translate(357.6,101) rotate(-90)">&#956;<tspan font-size="17.5" dy="7">k</tspan></text>
<text stroke="#000" stroke-width="0.55" x="0" y="0" font-size="20.5" transform="translate(372.9,287.4) rotate(-90)">F<tspan font-size="17.5" dy="7">k</tspan><tspan dy="-7"> [nN]</tspan></text>
<text stroke="#000" stroke-width="0.55" x="24.45" y="445" font-size="18.0" fill="#000">0.003</text>
<text stroke="#000" stroke-width="0.55" x="24.45" y="494.2" font-size="18.0" fill="#000">0.002</text>
<text stroke="#000" stroke-width="0.55" x="24.45" y="544" font-size="18.0" fill="#000">0.00</text>
<path d="M64.71 544L66.33 544L66.33 531.35L65.14 531.35L64.89 532.08L64.39 532.75L63.54 533.27L62.46 533.56L61.36 533.67L61.36 534.86L62.55 534.78L63.63 534.57L64.31 534.24L64.71 533.88Z" fill="#000" stroke="#000" stroke-width="0.55" stroke-linejoin="round"/>
<text stroke="#000" stroke-width="0.55" x="44.48" y="598.6" font-size="18.0" fill="#000">0.9</text>
<text stroke="#000" stroke-width="0.55" x="44.48" y="643" font-size="18.0" fill="#000">0.6</text>
<text stroke="#000" stroke-width="0.55" x="44.48" y="687.2" font-size="18.0" fill="#000">0.3</text>
<text stroke="#000" stroke-width="0.55" x="59.49" y="731.6" font-size="18.0" fill="#000">0</text>
<text stroke="#000" stroke-width="0.55" x="70.36" y="743" font-size="18.5" fill="#000">0</text>
<text stroke="#000" stroke-width="0.55" x="125.04" y="743" font-size="18.5" fill="#000">0.5</text>
<path d="M200.52 743L202.19 743L202.19 729.99L200.96 729.99L200.71 730.75L200.19 731.44L199.32 731.97L198.21 732.27L197.08 732.38L197.08 733.6L198.3 733.53L199.41 733.31L200.11 732.97L200.52 732.6Z" fill="#000" stroke="#000" stroke-width="0.55" stroke-linejoin="round"/>
<path d="M255.21 743L256.87 743L256.87 729.99L255.65 729.99L255.39 730.75L254.87 731.44L254 731.97L252.89 732.27L251.76 732.38L251.76 733.6L252.99 733.53L254.1 733.31L254.8 732.97L255.21 732.6Z" fill="#000" stroke="#000" stroke-width="0.55" stroke-linejoin="round"/>
<text stroke="#000" stroke-width="0.55" x="260.13" y="743" font-size="18.5" fill="#000">.5</text>
<text stroke="#000" stroke-width="0.55" x="319.96" y="743" font-size="18.5" fill="#000">2</text>
<text stroke="#000" stroke-width="0.55" x="128.6" y="764.2" font-size="20.4" fill="#000" textLength="139.68" lengthAdjust="spacingAndGlyphs" >Load [nN/atom]</text>
<text stroke="#000" stroke-width="0.55" x="77.42" y="419.8" font-size="18.3" fill="#000" textLength="21" lengthAdjust="spacingAndGlyphs" >(c)</text>
<text stroke="#000" stroke-width="0.55" x="189.5" y="452" font-size="20.2" fill="#000" textLength="131.19" lengthAdjust="spacingAndGlyphs" >Homogeneous</text>
<text stroke="#dc0c1c" stroke-width="0.55" x="182.7" y="519" font-size="20.3" fill="#dc0c1c" textLength="138.72" lengthAdjust="spacingAndGlyphs" >Heterogeneous</text>
<text stroke="#000" stroke-width="0.55" x="0" y="0" font-size="20.5" transform="translate(12.2,494) rotate(-90)">&#956;<tspan font-size="17.5" dy="7">s</tspan></text>
<text stroke="#000" stroke-width="0.55" x="0" y="0" font-size="20.5" transform="translate(27.2,676) rotate(-90)">F<tspan font-size="17.5" dy="7">s</tspan><tspan dy="-7"> [nN]</tspan></text>
<path d="M376.31 414.3L377.98 414.3L377.98 401.29L376.75 401.29L376.5 402.05L375.98 402.74L375.11 403.27L374 403.57L372.87 403.68L372.87 404.9L374.09 404.83L375.2 404.61L375.9 404.27L376.31 403.9Z" fill="#000" stroke="#000" stroke-width="0.55" stroke-linejoin="round"/>
<text stroke="#000" stroke-width="0.55" x="381.23" y="414.3" font-size="18.5" fill="#000">0</text>
<text stroke="#000" stroke-width="0.55" x="390.92" y="405.5" font-size="14" fill="#000">−2</text>
<path d="M376.01 466.6L377.68 466.6L377.68 453.59L376.45 453.59L376.2 454.35L375.68 455.04L374.81 455.57L373.7 455.87L372.57 455.98L372.57 457.2L373.79 457.13L374.9 456.91L375.6 456.57L376.01 456.2Z" fill="#000" stroke="#000" stroke-width="0.55" stroke-linejoin="round"/>
<text stroke="#000" stroke-width="0.55" x="380.93" y="466.6" font-size="18.5" fill="#000">0</text>
<text stroke="#000" stroke-width="0.55" x="390.62" y="457.8" font-size="14" fill="#000">−4</text>
<path d="M376.21 518.9L377.88 518.9L377.88 505.89L376.65 505.89L376.4 506.65L375.88 507.34L375.01 507.87L373.9 508.17L372.77 508.28L372.77 509.5L373.99 509.43L375.1 509.21L375.8 508.87L376.21 508.5Z" fill="#000" stroke="#000" stroke-width="0.55" stroke-linejoin="round"/>
<text stroke="#000" stroke-width="0.55" x="381.13" y="518.9" font-size="18.5" fill="#000">0</text>
<text stroke="#000" stroke-width="0.55" x="390.82" y="510.1" font-size="14" fill="#000">−6</text>
<text stroke="#000" stroke-width="0.55" x="397.69" y="568.9" font-size="18.0" fill="#000">0</text>
<text stroke="#000" stroke-width="0.55" x="372.67" y="592.2" font-size="18.0" fill="#000">0.</text>
<path d="M392.9 592.2L394.52 592.2L394.52 579.55L393.33 579.55L393.08 580.28L392.57 580.95L391.73 581.47L390.65 581.76L389.55 581.87L389.55 583.06L390.74 582.98L391.82 582.77L392.5 582.44L392.9 582.08Z" fill="#000" stroke="#000" stroke-width="0.55" stroke-linejoin="round"/>
<text stroke="#000" stroke-width="0.55" x="397.69" y="592.2" font-size="18.0" fill="#000">8</text>
<text stroke="#000" stroke-width="0.55" x="372.67" y="638.9" font-size="18.0" fill="#000">0.</text>
<path d="M392.9 638.9L394.52 638.9L394.52 626.25L393.33 626.25L393.08 626.98L392.57 627.65L391.73 628.17L390.65 628.46L389.55 628.57L389.55 629.76L390.74 629.68L391.82 629.47L392.5 629.14L392.9 628.78Z" fill="#000" stroke="#000" stroke-width="0.55" stroke-linejoin="round"/>
<text stroke="#000" stroke-width="0.55" x="397.69" y="638.9" font-size="18.0" fill="#000">2</text>
<text stroke="#000" stroke-width="0.55" x="372.67" y="685.6" font-size="18.0" fill="#000">0.06</text>
<text stroke="#000" stroke-width="0.55" x="397.69" y="732.1" font-size="18.0" fill="#000">0</text>
<text stroke="#000" stroke-width="0.55" x="409.06" y="743" font-size="18.5" fill="#000">0</text>
<text stroke="#000" stroke-width="0.55" x="463.49" y="743" font-size="18.5" fill="#000">0.5</text>
<path d="M538.72 743L540.39 743L540.39 729.99L539.16 729.99L538.91 730.75L538.39 731.44L537.52 731.97L536.41 732.27L535.28 732.38L535.28 733.6L536.5 733.53L537.61 733.31L538.31 732.97L538.72 732.6Z" fill="#000" stroke="#000" stroke-width="0.55" stroke-linejoin="round"/>
<path d="M593.16 743L594.82 743L594.82 729.99L593.6 729.99L593.34 730.75L592.82 731.44L591.95 731.97L590.84 732.27L589.71 732.38L589.71 733.6L590.94 733.53L592.05 733.31L592.75 732.97L593.16 732.6Z" fill="#000" stroke="#000" stroke-width="0.55" stroke-linejoin="round"/>
<text stroke="#000" stroke-width="0.55" x="598.08" y="743" font-size="18.5" fill="#000">.5</text>
<text stroke="#000" stroke-width="0.55" x="657.66" y="743" font-size="18.5" fill="#000">2</text>
<text stroke="#000" stroke-width="0.55" x="467.3" y="764.2" font-size="20.4" fill="#000" textLength="139.68" lengthAdjust="spacingAndGlyphs" >Load [nN/atom]</text>
<text stroke="#000" stroke-width="0.55" x="416.44" y="418.8" font-size="18.3" fill="#000" textLength="21.59" lengthAdjust="spacingAndGlyphs" >(d)</text>
<text stroke="#000" stroke-width="0.55" x="498.31" y="420.5" font-size="20.4" fill="#000" textLength="131.98" lengthAdjust="spacingAndGlyphs" >Homogeneous</text>
<text stroke="#dc0c1c" stroke-width="0.55" x="497.6" y="551.3" font-size="20.5" fill="#dc0c1c" textLength="140.6" lengthAdjust="spacingAndGlyphs" >Heterogeneous</text>
<text stroke="#000" stroke-width="0.55" x="0" y="0" font-size="20.5" transform="translate(358.4,493.7) rotate(-90)">&#956;<tspan font-size="17.5" dy="7">k</tspan></text>
<text stroke="#000" stroke-width="0.55" x="0" y="0" font-size="20.5" transform="translate(361.2,676.2) rotate(-90)">F<tspan font-size="17.5" dy="7">k</tspan><tspan dy="-7"> [nN]</tspan></text>
</svg>
</body></html>
